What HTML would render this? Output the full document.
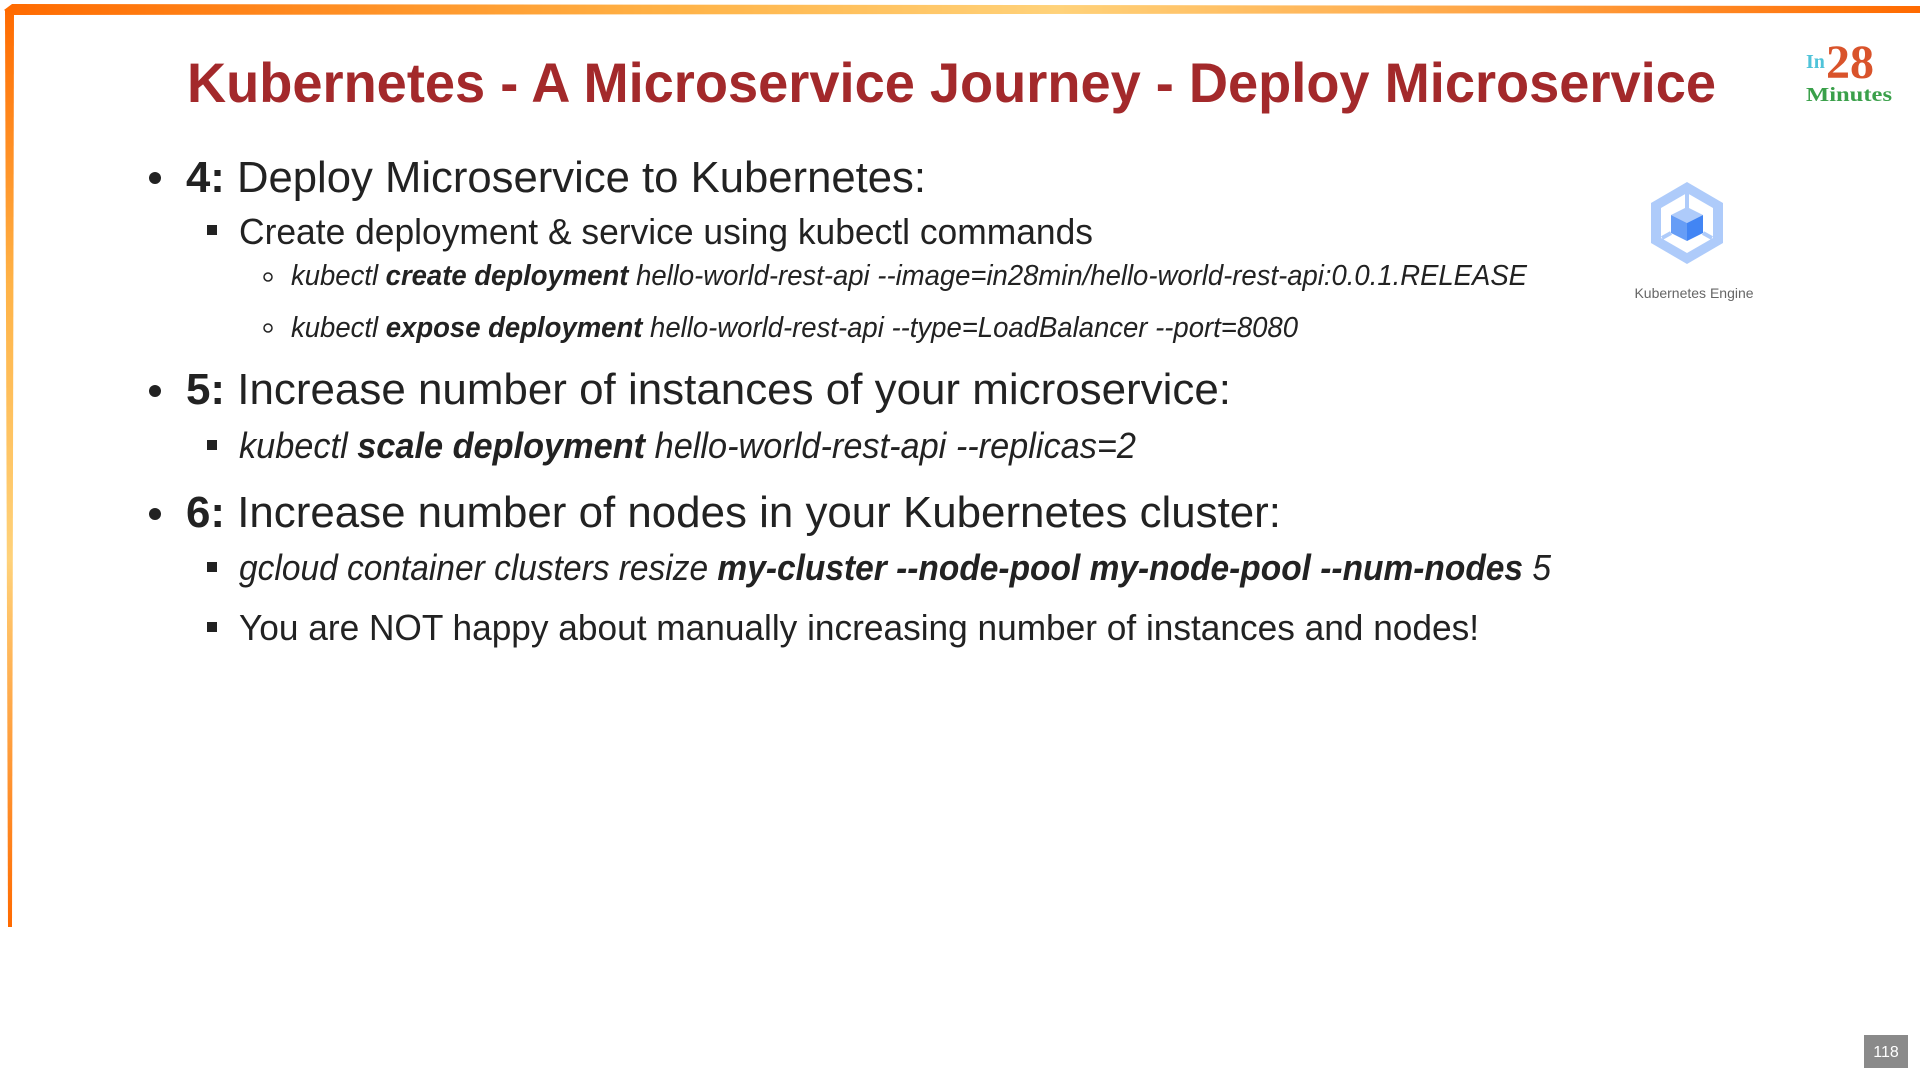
<!DOCTYPE html>
<html><head><meta charset="utf-8"><style>
html,body{margin:0;padding:0;background:#fff;width:1920px;height:1080px;overflow:hidden}
svg{display:block}
text{font-family:"Liberation Sans",sans-serif;fill:#222}
</style></head><body>
<svg width="1920" height="1080" viewBox="0 0 1920 1080" xmlns="http://www.w3.org/2000/svg">
<defs>
<linearGradient id="gt" x1="0" x2="1" y1="0" y2="0">
<stop offset="0" stop-color="#ff6a00"/><stop offset="0.35" stop-color="#ffb347"/><stop offset="0.55" stop-color="#ffd27a"/><stop offset="0.8" stop-color="#ffa040"/><stop offset="1" stop-color="#ff6a00"/>
</linearGradient>
<linearGradient id="gl" x1="0" x2="0" y1="0" y2="1">
<stop offset="0" stop-color="#ff6a00"/><stop offset="0.3" stop-color="#ffb347"/><stop offset="0.6" stop-color="#ffd27a"/><stop offset="1" stop-color="#ff6a00"/>
</linearGradient>
</defs>
<polygon points="4,10 12,4 1920,6 1920,13 12,15" fill="url(#gt)"/>
<polygon points="5,10 14,10 12,927 8,927" fill="url(#gl)"/>

<text x="187" y="102" font-size="56" font-weight="bold" style="fill:#a3292b" textLength="1529" lengthAdjust="spacingAndGlyphs">Kubernetes - A Microservice Journey - Deploy Microservice</text>

<text x="1806" y="68" font-size="20" font-family="Liberation Serif" style="fill:#4fc3d9;font-family:'Liberation Serif',serif;font-weight:bold">In</text>
<text x="1826" y="78" font-size="48" style="fill:#d9532b;font-family:'Liberation Serif',serif;font-weight:bold">28</text>
<text x="1806" y="101" font-size="20" style="fill:#3aa04a;font-family:'Liberation Serif',serif;font-weight:bold" textLength="86" lengthAdjust="spacingAndGlyphs">Minutes</text>

<g transform="translate(1687,223)">
<polygon points="0,-41 36,-20 36,20 0,41 -36,20 -36,-20" fill="#aecbfa"/>
<polygon points="0,-30 26,-15 26,15 0,30 -26,15 -26,-15" fill="#fff"/>
<line x1="0" y1="-30" x2="0" y2="-14" stroke="#aecbfa" stroke-width="4"/>
<polygon points="0,-16 16,-8 0,0 -16,-8" fill="#aecbfa"/>
<polygon points="-16,-8 0,0 0,18 -16,10" fill="#669df6"/>
<polygon points="16,-8 0,0 0,18 16,10" fill="#4285f4"/>
<line x1="-16" y1="10" x2="-25" y2="15" stroke="#aecbfa" stroke-width="4"/>
<line x1="16" y1="10" x2="25" y2="15" stroke="#aecbfa" stroke-width="4"/>
</g>
<text x="1694" y="298" font-size="14" text-anchor="middle" style="fill:#666">Kubernetes Engine</text>

<circle cx="155" cy="178" r="6" fill="#222"/>
<text x="186" y="192" font-size="44" textLength="740" lengthAdjust="spacingAndGlyphs"><tspan font-weight="bold">4:</tspan> Deploy Microservice to Kubernetes:</text>
<rect x="207" y="225" width="10" height="10" fill="#222"/>
<text x="239" y="244" font-size="36" textLength="854" lengthAdjust="spacingAndGlyphs">Create deployment &amp; service using kubectl commands</text>
<circle cx="268" cy="277" r="4" fill="none" stroke="#222" stroke-width="1.5"/>
<text x="291" y="285" font-size="29" font-style="italic" textLength="1236" lengthAdjust="spacingAndGlyphs">kubectl <tspan font-weight="bold">create deployment</tspan> hello-world-rest-api --image=in28min/hello-world-rest-api:0.0.1.RELEASE</text>
<circle cx="268" cy="328" r="4" fill="none" stroke="#222" stroke-width="1.5"/>
<text x="291" y="337" font-size="29" font-style="italic" textLength="1007" lengthAdjust="spacingAndGlyphs">kubectl <tspan font-weight="bold">expose deployment</tspan> hello-world-rest-api --type=LoadBalancer --port=8080</text>

<circle cx="155" cy="391" r="6" fill="#222"/>
<text x="186" y="404" font-size="44" textLength="1045" lengthAdjust="spacingAndGlyphs"><tspan font-weight="bold">5:</tspan> Increase number of instances of your microservice:</text>
<rect x="207" y="440" width="10" height="10" fill="#222"/>
<text x="239" y="458" font-size="36" font-style="italic" textLength="897" lengthAdjust="spacingAndGlyphs">kubectl <tspan font-weight="bold">scale deployment</tspan> hello-world-rest-api --replicas=2</text>

<circle cx="155" cy="514" r="6" fill="#222"/>
<text x="186" y="527" font-size="44" textLength="1095" lengthAdjust="spacingAndGlyphs"><tspan font-weight="bold">6:</tspan> Increase number of nodes in your Kubernetes cluster:</text>
<rect x="207" y="562" width="10" height="10" fill="#222"/>
<text x="239" y="580" font-size="36" font-style="italic" textLength="1312" lengthAdjust="spacingAndGlyphs">gcloud container clusters resize <tspan font-weight="bold">my-cluster --node-pool my-node-pool --num-nodes</tspan> 5</text>
<rect x="207" y="622" width="10" height="10" fill="#222"/>
<text x="239" y="640" font-size="36" textLength="1240" lengthAdjust="spacingAndGlyphs">You are NOT happy about manually increasing number of instances and nodes!</text>

<rect x="1864" y="1035" width="44" height="33" fill="#8a8a8a"/>
<text x="1886" y="1057" font-size="16" text-anchor="middle" style="fill:#fff">118</text>
</svg>
</body></html>
